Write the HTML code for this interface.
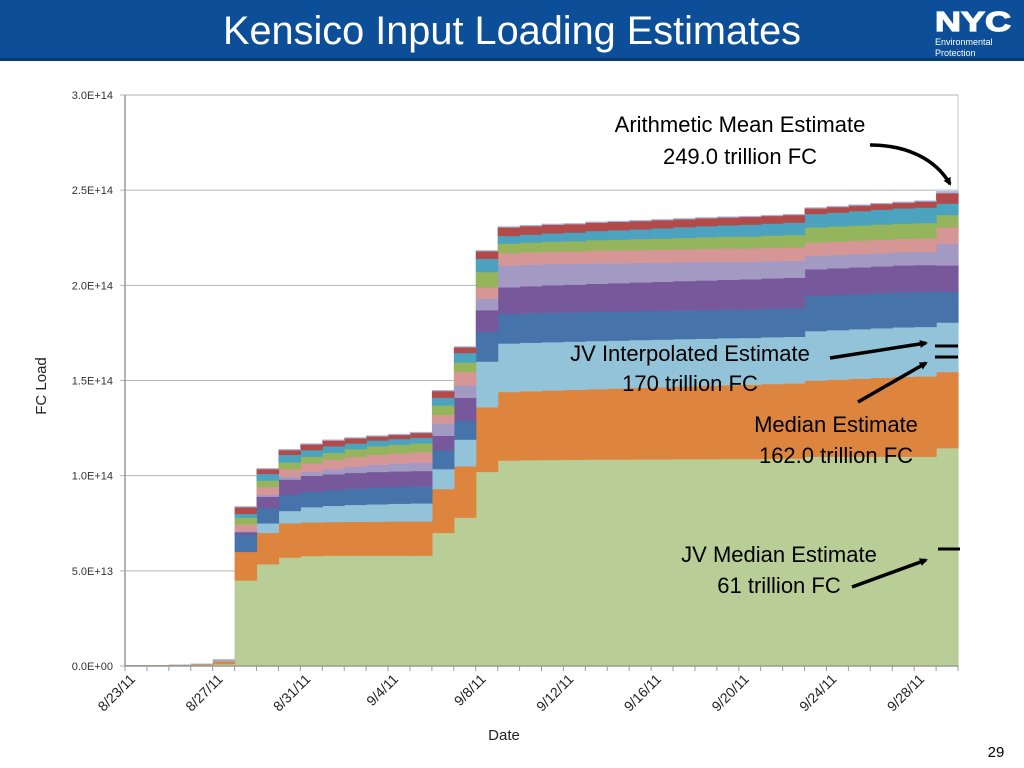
<!DOCTYPE html>
<html><head><meta charset="utf-8"><style>
html,body{margin:0;padding:0;background:#fff;}
svg{display:block;font-family:"Liberation Sans",sans-serif;}
</style></head><body>
<svg id="s" width="1024" height="768" viewBox="0 0 1024 768" xmlns="http://www.w3.org/2000/svg">
<rect x="0" y="0" width="1024" height="58" fill="#0C4F98"/>
<rect x="0" y="58" width="1024" height="3" fill="#083A72"/>
<text x="512" y="44" text-anchor="middle" font-size="40" fill="#fff" textLength="578" lengthAdjust="spacingAndGlyphs">Kensico Input Loading Estimates</text>
<g>
<text x="935" y="31" font-size="28" font-weight="bold" fill="#fff" stroke="#fff" stroke-width="1.2" textLength="76" lengthAdjust="spacingAndGlyphs">NYC</text>
<text x="935" y="45" font-size="9" fill="#fff">Environmental</text>
<text x="935" y="56" font-size="9" fill="#fff">Protection</text>
</g>
<g id="chart"></g>
<text x="996" y="757" text-anchor="middle" font-size="15" fill="#000">29</text>
</svg>
<script>
const categories=["8/23/11","8/24/11","8/25/11","8/26/11","8/27/11","8/28/11","8/29/11","8/30/11","8/31/11","9/1/11","9/2/11","9/3/11","9/4/11","9/5/11","9/6/11","9/7/11","9/8/11","9/9/11","9/10/11","9/11/11","9/12/11","9/13/11","9/14/11","9/15/11","9/16/11","9/17/11","9/18/11","9/19/11","9/20/11","9/21/11","9/22/11","9/23/11","9/24/11","9/25/11","9/26/11","9/27/11","9/28/11","9/29/11"];
const yTicks=[0,5,10,15,20,25,30];
const yTickLabels=["0.0E+00","5.0E+13","1.0E+14","1.5E+14","2.0E+14","2.5E+14","3.0E+14"];
// values in units of 1E13 FC, stacked bottom to top
const sGreen=[0.03,0.03,0.04,0.05,0.1,4.5,5.35,5.7,5.78,5.8,5.8,5.8,5.8,5.8,7.0,7.8,10.2,10.8,10.82,10.83,10.84,10.85,10.85,10.86,10.86,10.87,10.87,10.88,10.88,10.89,10.9,11.0,11.0,11.0,11.0,11.0,11.0,11.45];
const sOrange=[0.02,0.02,0.03,0.05,0.15,1.5,1.65,1.8,1.77,1.77,1.78,1.79,1.8,1.8,2.3,2.7,3.4,3.6,3.62,3.65,3.68,3.7,3.73,3.76,3.79,3.82,3.85,3.88,3.9,3.93,3.95,4.0,4.05,4.1,4.15,4.2,4.22,4.0];
const sLightBlue=[0,0,0.01,0.03,0.05,0,0.5,0.65,0.8,0.85,0.89,0.91,0.93,0.95,1.05,1.4,2.4,2.55,2.55,2.54,2.53,2.53,2.52,2.51,2.5,2.49,2.48,2.47,2.46,2.46,2.45,2.6,2.6,2.6,2.6,2.6,2.6,2.6];
const sBlue=[0,0,0,0,0,0.9,0.8,0.85,0.8,0.83,0.85,0.88,0.89,0.9,1.0,1.0,1.55,1.55,1.55,1.55,1.54,1.54,1.53,1.53,1.52,1.52,1.51,1.51,1.5,1.5,1.5,1.85,1.85,1.85,1.85,1.85,1.85,1.6];
const sPurple=[0,0,0,0,0,0.14,0.6,0.8,0.85,0.83,0.83,0.82,0.81,0.8,0.75,1.2,1.15,1.4,1.42,1.44,1.45,1.47,1.49,1.5,1.52,1.53,1.55,1.56,1.58,1.59,1.6,1.4,1.4,1.4,1.4,1.4,1.4,1.4];
const sLavender=[0,0,0,0,0.05,0.06,0.1,0.15,0.2,0.27,0.33,0.38,0.42,0.45,0.65,0.65,0.6,1.15,1.13,1.11,1.09,1.07,1.05,1.03,1.01,0.99,0.97,0.95,0.93,0.91,0.9,0.7,0.7,0.7,0.7,0.7,0.7,1.15];
const sPink=[0,0,0,0,0,0.35,0.4,0.4,0.45,0.5,0.5,0.52,0.53,0.55,0.45,0.7,0.6,0.65,0.65,0.66,0.66,0.67,0.67,0.67,0.68,0.68,0.69,0.69,0.69,0.7,0.7,0.7,0.7,0.7,0.7,0.7,0.7,0.85];
const sOlive=[0,0,0,0,0,0.35,0.35,0.35,0.35,0.35,0.42,0.45,0.45,0.45,0.5,0.5,0.8,0.5,0.51,0.52,0.53,0.55,0.56,0.57,0.58,0.6,0.61,0.62,0.63,0.64,0.65,0.8,0.8,0.8,0.8,0.8,0.8,0.65];
const sTeal=[0,0,0,0,0,0.2,0.35,0.4,0.35,0.35,0.3,0.3,0.3,0.3,0.4,0.5,0.7,0.4,0.42,0.44,0.46,0.48,0.5,0.52,0.54,0.56,0.58,0.6,0.62,0.63,0.65,0.7,0.72,0.75,0.78,0.8,0.82,0.6];
const sRed=[0,0,0,0,0,0.35,0.25,0.25,0.3,0.3,0.27,0.22,0.22,0.25,0.35,0.3,0.4,0.45,0.45,0.45,0.44,0.44,0.44,0.43,0.43,0.42,0.42,0.41,0.41,0.4,0.4,0.3,0.3,0.3,0.3,0.3,0.32,0.55];
const sTop=[0,0,0,0,0,0.05,0.05,0.05,0.05,0.05,0.05,0.05,0.05,0.05,0.05,0.05,0.05,0.05,0.05,0.05,0.05,0.05,0.05,0.05,0.05,0.05,0.05,0.05,0.05,0.05,0.05,0.05,0.05,0.05,0.05,0.05,0.05,0.1];
const seriesList=[sGreen,sOrange,sLightBlue,sBlue,sPurple,sLavender,sPink,sOlive,sTeal,sRed,sTop];
const seriesNames=["series-1","series-2","series-3","series-4","series-5","series-6","series-7","series-8","series-9","series-10","series-11"];
const colors=["#B9CD96","#DD843F","#93C3D8","#4674AA","#77589A","#A39AC4","#D69696","#95B55C","#4BA3BF","#B24A4A","#A7B8DC"];

const NS="http://www.w3.org/2000/svg";
const g=document.getElementById('chart');
const X0=125,X1=958,Y0=666,Y1=95,YMAX=30;
const bw=(X1-X0)/categories.length;
const xPos=i=>X0+i*bw;
const yPos=v=>Y0-(v/YMAX)*(Y0-Y1);
function mk(tag,attrs){const e=document.createElementNS(NS,tag);for(const k in attrs)e.setAttribute(k,attrs[k]);g.appendChild(e);return e;}

const frame=mk('rect',{x:X0,y:Y1,width:X1-X0,height:Y0-Y1,fill:'none',stroke:'#C8C8C8','stroke-width':1});


yTicks.forEach((t,i)=>{
  const y=yPos(t);
  const gl=mk('line',{x1:X0-5,x2:X1,y1:y,y2:y,stroke:'#B5B5B5','stroke-width':1});
  
  
  const tl=mk('text',{x:113,y:y+4,'text-anchor':'end','font-size':11,fill:'#333'});
  tl.textContent=yTickLabels[i];
  
  
});
seriesList.forEach((s,si)=>{
  s.forEach((v,i)=>{
    let base=0;for(let k=0;k<si;k++)base+=seriesList[k][i];
    if(v<=0)return;
    const r=mk('rect',{x:xPos(i),y:yPos(base+v),width:bw+0.6,height:yPos(base)-yPos(base+v)+0.3,fill:colors[si]});
    
    
  });
});
const ax=mk('line',{x1:X0,x2:X0,y1:Y1,y2:Y0,stroke:'#999','stroke-width':1.5});


const xa=mk('line',{x1:X0,x2:X1,y1:Y0,y2:Y0,stroke:'#999','stroke-width':1.5});


for(let i=0;i<=categories.length;i++){
  const t=mk('line',{x1:xPos(i),x2:xPos(i),y1:Y0,y2:Y0+5,stroke:'#999'});
  
  
}
categories.forEach((c,i)=>{
  if(i%4!==0)return;
  const cx=xPos(i)+bw/2,cy=Y0+14;
  const t=mk('text',{x:cx,y:cy,'text-anchor':'end','font-size':14,fill:'#222',transform:`rotate(-45 ${cx} ${cy})`});
  t.textContent=c;
  
  
});
const yt=mk('text',{x:46,y:386,'text-anchor':'middle','font-size':15,fill:'#222',transform:'rotate(-90 46 386)'});
yt.textContent='FC  Load';


const xt=mk('text',{x:504,y:740,'text-anchor':'middle','font-size':15,fill:'#222'});
xt.textContent='Date';



// annotations
const defs=mk('defs',{});
defs.innerHTML='<marker id="ah" markerWidth="8" markerHeight="8" refX="6" refY="4" orient="auto" markerUnits="userSpaceOnUse"><path d="M0,0 L8,4 L0,8 Z" fill="#000"/></marker>';
function label(txt,x,y,name){const t=mk('text',{x:x,y:y,'text-anchor':'middle','font-size':22,fill:'#000'});t.textContent=txt;}
label('Arithmetic Mean Estimate',740,132,'mean-annotation');
label('249.0 trillion FC',740,164,'mean-annotation-value');
label('JV Interpolated Estimate',690,361,'jv-interpolated-annotation');
label('170 trillion FC',690,391,'jv-interpolated-annotation-value');
label('Median Estimate',836,432,'median-annotation');
label('162.0 trillion FC',836,463,'median-annotation-value');
label('JV Median Estimate',779,562,'jv-median-annotation');
label('61 trillion FC',779,593,'jv-median-annotation-value');
const arrows=[['M870,145 C905,145 935,158 950,184','mean-arrow'],['M830,358 L926,343','jv-interpolated-arrow'],['M858,402 L926,363','median-arrow'],['M852,587 L926,560','jv-median-arrow']];
arrows.forEach(a=>{const p=mk('path',{d:a[0],fill:'none',stroke:'#000','stroke-width':3.5,'marker-end':'url(#ah)'});});
[[935,958,346,'jv-interpolated-marker'],[935,958,357,'median-marker'],[938,960,549,'jv-median-marker']].forEach(d=>{
  const l=mk('line',{x1:d[0],x2:d[1],y1:d[2],y2:d[2],stroke:'#000','stroke-width':3});
  
  
});
</script>
</body></html>
